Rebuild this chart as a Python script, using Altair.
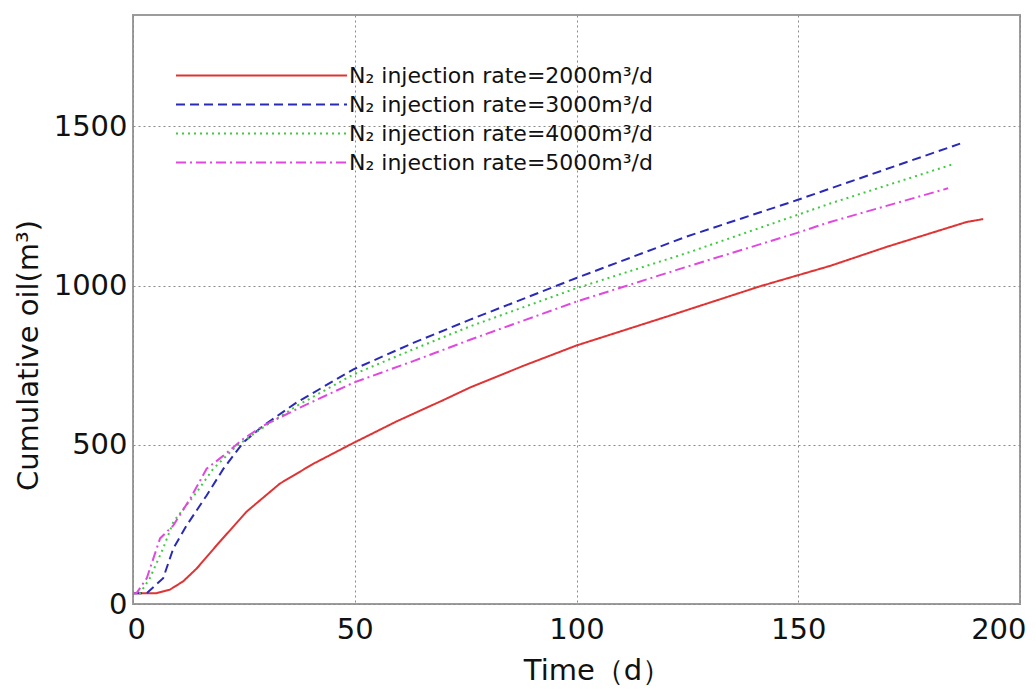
import altair as alt
import pandas as pd

# ---- data ----
series_names = [
    "N\u2082 injection rate=2000m\u00b3/d",
    "N\u2082 injection rate=3000m\u00b3/d",
    "N\u2082 injection rate=4000m\u00b3/d",
    "N\u2082 injection rate=5000m\u00b3/d",
]

t_2000 = [0, 5.3, 8.3, 11.3, 14.4, 18.9, 25.6, 33.1, 40.6, 49.3, 59.5, 69.9, 76.0, 88.0, 100.0, 121.1, 141.4, 157.2, 170.0, 188.0, 191.7]
v_2000 = [34, 34, 45, 71, 112, 185, 290, 378, 440, 503, 574, 640, 680, 748, 812, 906, 998, 1062, 1122, 1200, 1209]

t_3000 = [0, 3.1, 6.8, 9.1, 12.1, 16.6, 20.4, 24.9, 29.4, 36.9, 49.7, 63.2, 76.0, 100.0, 124.8, 149.6, 157.2, 186.5]
v_3000 = [34, 34, 81, 175, 247, 341, 425, 508, 560, 633, 737, 820, 893, 1024, 1154, 1268, 1305, 1446]

t_4000 = [0, 1.6, 3.8, 6.8, 9.1, 14.4, 18.1, 23.4, 29.4, 36.9, 49.7, 63.2, 76.0, 100.0, 124.8, 149.6, 157.2, 184.6]
v_4000 = [34, 34, 81, 175, 258, 352, 425, 497, 555, 622, 721, 800, 872, 992, 1102, 1221, 1258, 1380]

t_5000 = [0, 0.8, 3.1, 6.1, 9.1, 12.9, 16.6, 20.4, 24.9, 29.4, 36.9, 49.7, 63.2, 76.0, 100.0, 124.8, 149.6, 157.2, 183.8]
v_5000 = [34, 34, 81, 206, 247, 331, 425, 466, 519, 560, 612, 695, 763, 830, 950, 1059, 1165, 1200, 1306]

x_ticks = [0, 50, 100, 150, 200]
y_ticks = [0, 500, 1000, 1500]

line_colors = ["#e03434", "#2a2ab8", "#3ccc3c", "#e048e0"]
line_dashes = [[1, 0], [9, 5], [2, 4], [10, 4, 2, 4]]

rows = []
for name, ts, vs in zip(series_names, [t_2000, t_3000, t_4000, t_5000], [v_2000, v_3000, v_4000, v_5000]):
    for t, v in zip(ts, vs):
        rows.append({"series": name, "t": t, "v": v})
df = pd.DataFrame(rows)

FONT = "DejaVu Sans"

legend_opts = dict(
    title=None,
    orient="none",
    legendX=42,
    legendY=46,
    symbolType="stroke",
    symbolSize=29241,
    symbolStrokeWidth=2,
    clipHeight=29,
    rowPadding=0,
    labelOffset=1,
    labelFont=FONT,
    labelFontSize=22,
    labelColor="#111111",
    labelLimit=600,
    padding=0,
)

chart = (
    alt.Chart(df)
    .mark_line(strokeWidth=2)
    .encode(
        x=alt.X(
            "t:Q",
            scale=alt.Scale(domain=[0, 200], nice=False),
            axis=alt.Axis(
                values=x_ticks,
                format="d",
                title="Time\uff08d\uff09",
                labelFlush=True,
                labelFlushOffset=6,
                labelPadding=11,
                titleX=464,
                titleY=75,
                titleBaseline="alphabetic",
            ),
        ),
        y=alt.Y(
            "v:Q",
            scale=alt.Scale(domain=[0, 1850], nice=False),
            axis=alt.Axis(
                values=y_ticks,
                format="d",
                title="Cumulative oil(m\u00b3)",
                labelPadding=6,
                titleX=-96,
                titleY=340,
                titleBaseline="alphabetic",
            ),
        ),
        color=alt.Color(
            "series:N",
            scale=alt.Scale(domain=series_names, range=line_colors),
            legend=alt.Legend(**legend_opts),
        ),
        strokeDash=alt.StrokeDash(
            "series:N",
            scale=alt.Scale(domain=series_names, range=line_dashes),
            legend=alt.Legend(**legend_opts),
        ),
        order=alt.Order("t:Q"),
    )
    .properties(
        width=887,
        height=589,
        autosize=alt.AutoSizeParams(type="none"),
        padding={"left": 125, "top": 7, "right": 8, "bottom": 85},
        background="white",
    )
    .configure_view(stroke="#9c9c9c", strokeWidth=2)
    .configure_axis(
        grid=True,
        gridDash=[2, 3],
        gridColor="#8a8a8a",
        gridWidth=1,
        gridOpacity=1,
        domain=False,
        ticks=False,
        labelFont=FONT,
        labelFontSize=29,
        labelColor="#111111",
        titleFont=FONT,
        titleFontSize=29,
        titleFontWeight="normal",
        titleColor="#111111",
        labelOverlap=False,
    )
)

chart.save("out.html", embed_options={"renderer": "svg", "actions": False})
